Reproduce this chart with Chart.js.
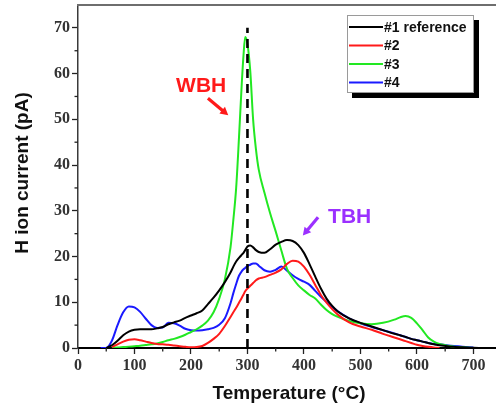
<!DOCTYPE html>
<html>
<head>
<meta charset="utf-8">
<script src="https://cdn.jsdelivr.net/npm/chart.js@4.4.0/dist/chart.umd.min.js"></script>
<style>
  html, body { margin: 0; padding: 0; background: #ffffff; }
  #wrap { width: 496px; height: 410px; position: relative; }
</style>
</head>
<body>
<div id="wrap"><canvas id="chart" width="496" height="410"></canvas></div>
<script>
// Temperature grid (°C) shared by all four samples
const temperatures = [40,50,60,70,80,90,100,110,120,130,140,150,160,170,180,190,200,210,220,230,240,250,260,270,
  275,280,285,290,293,296,300,305,310,315,320,
  330,340,350,360,370,380,390,400,410,420,430,440,450,460,
  480,500,520,540,560,
  570,580,590,600,610,620,630,640,
  660,680,700,710];

// H ion current (pA) per sample
const sample1 = [null,0,0.6,1.6,2.8,3.6,4.0,4.1,4.1,4.1,4.3,4.6,5.2,5.6,6.0,6.6,7.1,7.6,8.2,9.6,11.0,12.6,14.4,16.5,
  17.8,18.9,19.7,20.4,20.8,21.4,22.2,22.4,22.0,21.4,21.0,
  20.8,21.6,22.6,23.2,23.6,23.4,22.5,20.8,18.3,15.6,13.0,10.8,9.2,8.0,
  6.5,5.5,4.7,3.9,3.1,
  2.8,2.4,2.0,1.7,1.4,1.1,0.8,0.6,
  0.3,0.15,0.05,0];
const sample2 = [null,null,0.2,0.8,1.4,1.8,1.9,1.7,1.4,1.1,0.9,0.8,0.7,0.55,0.4,0.25,0.15,0.2,0.45,1.1,2.0,3.1,4.8,6.8,
  7.8,8.8,9.9,11.0,11.7,12.4,13.0,13.6,14.2,14.8,15.2,
  15.5,16.0,16.5,17.2,18.4,19.1,18.9,17.8,16.0,13.8,11.6,9.9,8.5,7.3,
  5.6,4.7,4.0,3.1,2.3,
  1.9,1.5,1.1,0.7,0.45,0.25,0.1,0,
  null,null,null,null];
const sample3 = [null,null,0.05,0.1,0.2,0.3,0.4,0.5,0.65,0.8,1.0,1.3,1.7,2.0,2.4,2.9,3.5,4.1,4.9,6.0,7.8,10.8,15.0,22.0,
  28.0,35.0,46.0,58.0,64.0,68.0,66.5,60.5,50.0,43.5,39.0,
  34.0,29.5,25.5,21.3,17.3,15.3,13.7,12.6,11.6,10.8,9.5,8.3,7.4,6.8,
  5.9,5.4,5.2,5.5,6.2,
  6.7,7.0,6.6,5.4,3.9,2.3,1.4,0.9,
  0.4,0.15,0,null];
const sample4 = [0,0,1.6,5.0,7.8,9.1,8.9,7.9,6.4,5.0,4.4,4.5,5.5,5.4,4.9,4.2,3.9,3.8,3.9,4.1,4.4,5.1,6.5,9.8,
  12.0,14.0,15.8,16.8,17.2,17.5,17.9,18.2,18.5,18.5,18.0,
  17.0,16.7,17.1,17.8,16.9,15.9,15.1,14.5,13.8,12.5,11.2,10.1,9.0,8.0,
  6.5,5.4,4.6,3.9,3.2,
  2.8,2.4,2.0,1.7,1.4,1.1,0.9,0.8,
  0.5,0.3,0.1,null];

const seriesLabels = ['#1 reference', '#2', '#3', '#4'];
const seriesValues = [sample1, sample2, sample3, sample4];
const seriesColors = ['#000000', '#ff1a1a', '#22e822', '#1a1aff'];

// Axis ticks
const xTickValues = [0,50,100,150,200,250,300,350,400,450,500,550,600,650,700];
const xTickLabels = ['0','','100','','200','','300','','400','','500','','600','','700'];
const yTickValues = [0,5,10,15,20,25,30,35,40,45,50,55,60,65,70];
const yTickLabels = ['0','','10','','20','','30','','40','','50','','60','','70'];

// Marker line at the WBH peak temperature
const wbhTemperature = 300;
const wbhLineTop = 70;

// Peak annotations, in data units (°C, pA)
const annotations = [
  { text: 'WBH', color: '#ff1a1a', at: [218, 57.3], arrowFrom: [230, 54.6], arrowTo: [266, 50.9] },
  { text: 'TBH', color: '#9b30ff', at: [481, 28.6], arrowFrom: [425, 28.6], arrowTo: [398, 24.6] }
];

const toPoints = vals => temperatures
  .map((t, i) => ({ x: t, y: vals[i] }))
  .filter(p => p.y !== null);

const datasets = [{
  label: 'WBH',
  data: [{ x: wbhTemperature, y: 0 }, { x: wbhTemperature, y: wbhLineTop }],
  borderColor: '#000000',
  borderWidth: 2.6,
  borderDash: [9, 6],
  tension: 0
}].concat(seriesValues.map((vals, i) => ({
  label: seriesLabels[i],
  data: toPoints(vals),
  borderColor: seriesColors[i],
  borderWidth: 2,
  cubicInterpolationMode: 'monotone'
})));

function arrow(ctx, x0, y0, x1, y1, color) {
  const ang = Math.atan2(y1 - y0, x1 - x0);
  const head = 9;
  ctx.strokeStyle = color;
  ctx.fillStyle = color;
  ctx.lineWidth = 3.2;
  ctx.beginPath();
  ctx.moveTo(x0, y0);
  ctx.lineTo(x1 - Math.cos(ang) * head * 0.7, y1 - Math.sin(ang) * head * 0.7);
  ctx.stroke();
  ctx.beginPath();
  ctx.moveTo(x1, y1);
  ctx.lineTo(x1 - head * Math.cos(ang - 0.5), y1 - head * Math.sin(ang - 0.5));
  ctx.lineTo(x1 - head * Math.cos(ang + 0.5), y1 - head * Math.sin(ang + 0.5));
  ctx.closePath();
  ctx.fill();
}

const decorations = {
  id: 'decorations',
  afterDraw(chart) {
    const { ctx, chartArea: a, scales: { x, y } } = chart;
    ctx.save();

    // top frame
    ctx.strokeStyle = '#6e6e6e';
    ctx.lineWidth = 2;
    ctx.beginPath();
    ctx.moveTo(a.left - 1, a.top);
    ctx.lineTo(a.right, a.top);
    ctx.stroke();

    // short minor ticks
    ctx.strokeStyle = '#222222';
    ctx.lineWidth = 1.3;
    xTickValues.forEach((v, i) => {
      if (xTickLabels[i] !== '') return;
      const p = x.getPixelForValue(v);
      ctx.beginPath(); ctx.moveTo(p, a.bottom); ctx.lineTo(p, a.bottom + 3.5); ctx.stroke();
    });
    yTickValues.forEach((v, i) => {
      if (yTickLabels[i] !== '') return;
      const p = y.getPixelForValue(v);
      ctx.beginPath(); ctx.moveTo(a.left, p); ctx.lineTo(a.left - 3.5, p); ctx.stroke();
    });

    // axis titles
    ctx.fillStyle = '#111111';
    ctx.font = 'bold 19px "Liberation Sans", Arial, sans-serif';
    ctx.textAlign = 'center';
    ctx.textBaseline = 'middle';
    ctx.fillText('Temperature (\u00B0C)', (a.left + a.right) / 2 + 2, 394);
    ctx.save();
    ctx.translate(23, 173);
    ctx.rotate(-Math.PI / 2);
    ctx.fillText('H ion current (pA)', 0, 0);
    ctx.restore();

    // legend box with drop shadow
    const bx = 347, by = 15, bw = 127, bh = 78;
    ctx.fillStyle = '#000000';
    ctx.fillRect(bx + 5, by + 5, bw, bh);
    ctx.fillStyle = '#ffffff';
    ctx.fillRect(bx, by, bw, bh);
    ctx.strokeStyle = '#9a9a9a';
    ctx.lineWidth = 1;
    ctx.strokeRect(bx + 0.5, by + 0.5, bw - 1, bh - 1);
    ctx.font = 'bold 14px "Liberation Sans", Arial, sans-serif';
    ctx.textAlign = 'left';
    seriesLabels.forEach((label, i) => {
      const ly = by + 12 + i * 18.5;
      ctx.strokeStyle = seriesColors[i];
      ctx.lineWidth = 2;
      ctx.beginPath(); ctx.moveTo(bx + 2, ly); ctx.lineTo(bx + 36, ly); ctx.stroke();
      ctx.fillStyle = '#111111';
      ctx.fillText(label, bx + 37, ly + 1);
    });

    // peak annotations
    ctx.font = 'bold 21px "Liberation Sans", Arial, sans-serif';
    ctx.textAlign = 'center';
    annotations.forEach(n => {
      ctx.fillStyle = n.color;
      ctx.fillText(n.text, x.getPixelForValue(n.at[0]), y.getPixelForValue(n.at[1]));
      arrow(ctx,
        x.getPixelForValue(n.arrowFrom[0]), y.getPixelForValue(n.arrowFrom[1]),
        x.getPixelForValue(n.arrowTo[0]), y.getPixelForValue(n.arrowTo[1]),
        n.color);
    });
    ctx.restore();
  }
};

const tickFont = { family: '"Liberation Serif", "Times New Roman", serif', weight: 'bold', size: 16 };

new Chart(document.getElementById('chart'), {
  type: 'line',
  data: { datasets },
  options: {
    responsive: false,
    animation: false,
    layout: { padding: { top: 5, right: 0, bottom: 0, left: 0 } },
    elements: { point: { radius: 0 } },
    plugins: { legend: { display: false }, tooltip: { enabled: false } },
    scales: {
      x: {
        type: 'linear',
        min: 0,
        max: 740,
        afterBuildTicks: s => { s.ticks = xTickValues.map(v => ({ value: v })); },
        afterFit: s => { s.height = 62; s.paddingLeft = 0; s.paddingRight = 0; },
        ticks: {
          autoSkip: false,
          maxRotation: 0,
          padding: 2,
          color: '#333333',
          font: tickFont,
          callback: (v) => xTickLabels[xTickValues.indexOf(v)] ?? ''
        },
        grid: {
          drawOnChartArea: false,
          tickLength: 6,
          tickWidth: 1.3,
          tickColor: c => (c.tick && xTickLabels[xTickValues.indexOf(c.tick.value)] !== '') ? '#222222' : 'rgba(0,0,0,0)'
        },
        border: { display: true, color: '#000000', width: 2 }
      },
      y: {
        type: 'linear',
        min: 0,
        max: 75,
        afterBuildTicks: s => { s.ticks = yTickValues.map(v => ({ value: v })); },
        afterFit: s => { s.width = 78; s.paddingTop = 0; s.paddingBottom = 0; },
        ticks: {
          autoSkip: false,
          padding: 2,
          color: '#333333',
          font: tickFont,
          callback: (v) => yTickLabels[yTickValues.indexOf(v)] ?? ''
        },
        grid: {
          drawOnChartArea: false,
          tickLength: 6,
          tickWidth: 1.3,
          tickColor: c => (c.tick && yTickLabels[yTickValues.indexOf(c.tick.value)] !== '') ? '#222222' : 'rgba(0,0,0,0)'
        },
        border: { display: true, color: '#3a3a3a', width: 1.5 }
      }
    }
  },
  plugins: [decorations]
});
</script>
</body>
</html>
